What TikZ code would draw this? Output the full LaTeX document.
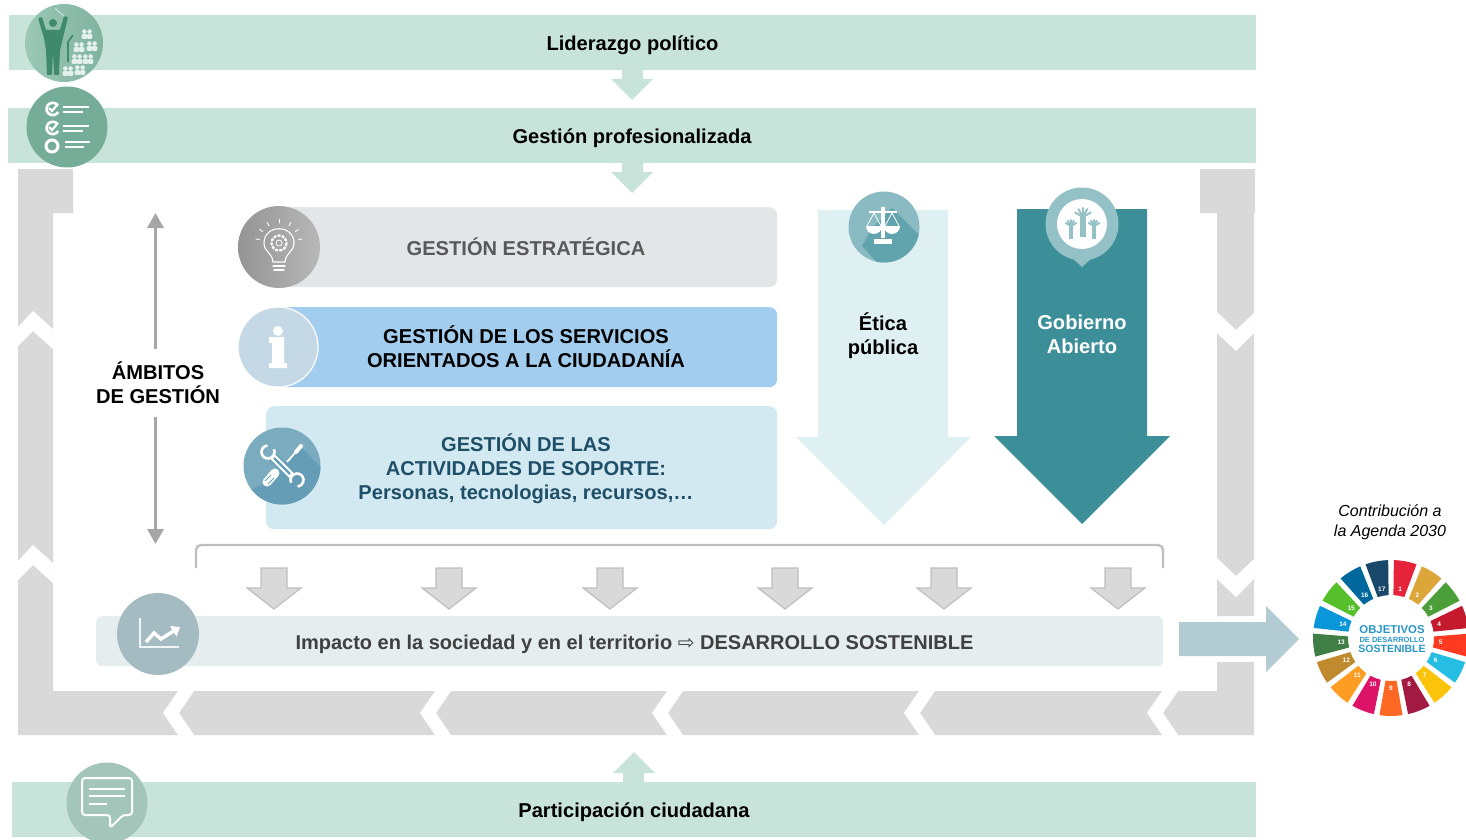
\documentclass[tikz,border=0pt]{standalone}
\usepackage{fontspec}
\setmainfont{Liberation Sans}
\newfontfamily\arrowfont{DejaVu Sans}
\usepackage{tikz}
\usetikzlibrary{arrows.meta}
\definecolor{bandgreen}{HTML}{C8E4DA}
\definecolor{framegrey}{HTML}{D9D9D9}
\definecolor{bluetext}{HTML}{1F4F66}
\definecolor{tealarrow}{HTML}{3C8E99}
\definecolor{ethicpale}{HTML}{DFF0F3}
\definecolor{boxgrey}{HTML}{E3E6E6}
\definecolor{boxblue}{HTML}{A3CDEE}
\definecolor{boxpale}{HTML}{D3E9F2}
\definecolor{boxice}{HTML}{E5EDEF}
\definecolor{arrowblue}{HTML}{B3CCD4}
\definecolor{sdgblue}{HTML}{2A96C8}
\definecolor{conda}{HTML}{9CC8B6}
\definecolor{condb}{HTML}{7FB3A0}
\definecolor{condark}{HTML}{3F8A6C}
\definecolor{checkg}{HTML}{76AD99}
\definecolor{infog}{HTML}{C5D8E6}
\definecolor{toolg}{HTML}{7AABBF}
\definecolor{toold}{HTML}{669DB6}
\definecolor{chartg}{HTML}{A5BBC2}
\definecolor{scaleg}{HTML}{8ABBC2}
\definecolor{scaled}{HTML}{62A4AE}
\definecolor{hands}{HTML}{93C1C6}
\definecolor{chatg}{HTML}{A4C6BA}

\begin{document}
\begin{tikzpicture}[x=1pt, y=-1pt,
		band/.style = {fill=bandgreen, inner sep=0pt, minimum height=55pt, text height=16pt, text depth=0pt, font=\fontsize{20.1}{24}\selectfont\bfseries},
		area/.style = {rounded corners=8pt, inner sep=0pt},
		disc/.style = {circle, inner sep=0pt},
		txt/.style = {align=center, inner sep=0pt, font=\fontsize{20.1}{24}\selectfont\bfseries},
		glyph/.style = {draw=white, line width=1.1pt, line cap=round},
		smallarr/.style = {fill=framegrey, draw=black!25, line width=1.2pt},
		person/.pic = {\foreach \d in {-2.6,2.6} {\fill (\d,-3.5) circle (2.3); \fill[rounded corners=1.2pt] (\d-2.8,4) -- (\d-2.8,-1) -- (\d+2.8,-1) -- (\d+2.8,4) -- cycle;}},
		hand/.pic = {\fill (-3.5,0) rectangle (3.5,22); \foreach \a in {-150,-120,-90,-62,-30} {\draw[line width=2pt, line cap=round] (0,0) -- ++(\a:10);}}]
		\useasboundingbox (0,0) rectangle (1466,840);
		\node[band, minimum width=1247pt] (lider) at (632.5,42.5) {Liderazgo político};
		\node[band, minimum width=1248pt] (gestion) at (632,135.5) {Gestión profesionalizada};
		\node[band, minimum width=1244pt] (particip) at (634,809.5) {Participación ciudadana};
		\fill[bandgreen] (622,70) -- (643,70) -- (643,79) -- (653,79) -- (632,100) -- (611,79) -- (622,79) -- cycle;
		\fill[bandgreen] (622,163) -- (643,163) -- (643,172) -- (653,172) -- (632,193) -- (611,172) -- (622,172) -- cycle;
		\fill[bandgreen] (623,782) -- (644,782) -- (644,773) -- (655,773) -- (634,752) -- (613,773) -- (623,773) -- cycle;

		\fill[framegrey] (18,169) -- (73,169) -- (73,213) -- (53,213) -- (53,691) -- (1217,691) -- (1217,662) -- (1254,662) -- (1254,735) -- (18,735) -- cycle;
		\fill[framegrey] (1200,169) -- (1255,169) -- (1255,213) -- (1254,213) -- (1254,616) -- (1217,616) -- (1217,213) -- (1200,213) -- cycle;
		\foreach \x in {163,420,652,904,1147} {
			\fill[white] (\x+15,691) -- (\x,713) -- (\x+15,735) -- (\x+31,735) -- (\x+16,713) -- (\x+31,691) -- cycle;
		}
		\foreach \y in {311,545} {
			\fill[white] (18,\y+16) -- (33,\y) -- (53,\y+18) -- (53,\y+38) -- (33,\y+20) -- (18,\y+35) -- cycle;
		}
		\foreach \y in {312,558} {
			\fill[white] (1217,\y) -- (1236,\y+18) -- (1254,\y+1) -- (1254,\y+21) -- (1236,\y+39) -- (1217,\y+21) -- cycle;
		}

		\node[area, fill=boxgrey, minimum width=498pt, minimum height=80pt, anchor=north west] (estrategica) at (279,207) {};
		\node[area, fill=boxblue, minimum width=499pt, minimum height=80pt, anchor=north west] (servicios) at (278,307) {};
		\node[area, fill=boxpale, minimum width=511pt, minimum height=123pt, anchor=north west] (soporte) at (266,406) {};
		\node[txt, text=black!65] (esttext) at (526,247) {GESTIÓN ESTRATÉGICA};
		\node[txt] (servtext) at (526,347) {GESTIÓN DE LOS SERVICIOS\\ORIENTADOS A LA CIUDADANÍA};
		\node[txt, text=bluetext] (soptext) at (526,469) {GESTIÓN DE LAS\\ACTIVIDADES DE SOPORTE:\\Personas, tecnologias, recursos,…};
		\node[area, fill=boxice, rounded corners=5pt, minimum width=1067pt, minimum height=50pt, anchor=north west] (impacto) at (96,616) {};
		\node[txt, text=black!75, font=\fontsize{20}{24}\selectfont\bfseries] (imptext) at (634.5,644) {Impacto en la sociedad y en el territorio {\arrowfont\fontsize{20}{24}\selectfont\mdseries ⇨} DESARROLLO SOSTENIBLE};

		\fill[ethicpale] (818,210) -- (948,210) -- (948,437) -- (971,437) -- (884,525) -- (796,437) -- (818,437) -- cycle;
		\fill[tealarrow] (1017,209) -- (1147,209) -- (1147,436) -- (1170,436) -- (1082,524) -- (994,436) -- (1017,436) -- cycle;
		\node[txt] (etica) at (883,336) {Ética\\pública};
		\node[txt, text=white] (gobierno) at (1082,334) {Gobierno\\Abierto};

		\node[txt, outer sep=13pt] (ambitos) at (158,383) {ÁMBITOS\\DE GESTIÓN};
		\coordinate (ambtop) at (155.5,213);
		\coordinate (ambbot) at (155.5,544);
		\draw[-{Triangle[length=15pt,width=16pt]}, line width=3pt, black!35] (ambitos.north -| ambtop) -- (ambtop);
		\draw[-{Triangle[length=15pt,width=16pt]}, line width=3pt, black!35] (ambitos.south -| ambbot) -- (ambbot);

		\draw[line width=2.4pt, black!25, rounded corners=5pt] (196,568) -- (196,545) -- (1163,545) -- (1163,568);
		\foreach \x in {274,449,610,785,944,1118} {
			\draw[smallarr] (\x-13,568) -- (\x+13,568) -- (\x+13,588) -- (\x+27,588) -- (\x,609) -- (\x-27,588) -- (\x-13,588) -- cycle;
		}

		\fill[arrowblue] (1179,622) -- (1266,622) -- (1266,606) -- (1299,639) -- (1266,672) -- (1266,656) -- (1179,656) -- cycle;

		\node[align=center, inner sep=0pt, font=\fontsize{16}{20}\selectfont\itshape] (agenda) at (1390,522) {Contribución a\\la Agenda 2030};
		\begin{scope}[shift={(1391,638)}, x=1pt, y=1pt]
			\foreach \c [count=\i] in {E5243B,DDA63A,4C9F38,C5192D,FF3A21,26BDE2,FCC30B,A21942,FD6925,DD1367,FD9D24,BF8B2E,3F7E44,0A97D9,56C02B,00689D,19486A} {
				\definecolor{sdg}{HTML}{\c}
				\pgfmathsetmacro{\ang}{90-(\i-1)*360/17}
				\fill[sdg] (\ang-2.1:78) arc[start angle=\ang-2.1, end angle=\ang-19.1, radius=78] -- (\ang-18:43) arc[start angle=\ang-18, end angle=\ang-3.2, radius=43] -- cycle;
				\node[text=white, inner sep=0pt, font=\fontsize{6.5}{7}\selectfont\bfseries] (sdg\i) at (\ang-10.6:50) {\i};
			}
		\end{scope}
		\node[align=center, inner sep=0pt, text=sdgblue, font=\bfseries] (ods) at (1392,639) {\fontsize{11.4}{10}\selectfont OBJETIVOS\\[-2.5pt]\fontsize{7.5}{8}\selectfont DE DESARROLLO\\[-2pt]\fontsize{10.5}{10}\selectfont SOSTENIBLE};

		\node[disc, minimum size=78pt, left color=conda, right color=condb] (iclider) at (64,43) {};
		\draw[white!70!conda, line width=.6pt] (55,8) -- (66,18);
		\fill[condark, rounded corners=1pt] (38,18) -- (42,17) -- (46,30) -- (60,30) -- (64,16) -- (68,17) -- (63,38) -- (60,50) -- (59,75) -- (54,75) -- (53,52) -- (52,75) -- (47,75) -- (46,50) -- (44,38) -- cycle;
		\fill[condark] (53,23) circle (4);
		\draw[condark, line width=1.6pt] (68,62) -- (68,42) -- (73,35);
		\foreach \p/\q in {87/35,79/48,92/47,77/60,88/60,68/72,80/71} {
			\pic[fill=white!72!conda] at (\p,\q) {person};
		}

		\node[disc, minimum size=81pt, fill=checkg] (icgestion) at (67,127) {};
		\foreach \y/\w/\z in {108/89/83,127/89/83} {
			\draw[white, line width=2.6pt] (57.5,\y-3) arc[start angle=-40, end angle=-330, radius=6.2];
			\draw[white, line width=2.2pt] (49,\y) -- (52,\y+3) -- (58,\y-4);
			\draw[white, line width=2.2pt] (63,\y-1) -- (\w,\y-1) (63,\y+4) -- (\z,\y+4);
		}
		\draw[white, line width=3pt] (52,146) circle (6);
		\draw[white, line width=2.2pt] (65,142) -- (90,142) (65,147) -- (84,147);

		\node[disc, minimum size=82pt, left color=black!42, right color=black!28] (icestrat) at (279,247) {};
		\draw[glyph] (273,262) .. controls (272,252) and (264,252) .. (264,243) .. controls (264,224) and (294,224) .. (294,243) .. controls (294,252) and (286,252) .. (285,262) -- cycle;
		\draw[glyph] (273,266) -- (285,266) (274,270) -- (284,270);
		\draw[glyph, dash pattern=on 3pt off 1.2pt, line cap=butt, line width=2.2pt] (279,243) circle (7.5);
		\draw[glyph, line width=.8pt] (279,243) circle (3);
		\foreach \a in {-170,-145,-120,-90,-60,-35,-10} {
			\draw[glyph, line width=.9pt] (279,243) ++(\a:20) -- ++(\a:3.5);
		}

		\node[disc, minimum size=80pt, fill=infog, draw=white, line width=1.2pt] (icserv) at (278,347) {};
		\fill[white] (278,331) circle (5);
		\fill[white] (269,337) -- (284,337) -- (284,363) -- (287,363) -- (287,368) -- (269,368) -- (269,363) -- (272,363) -- (272,343) -- (269,343) -- cycle;

		\node[disc, minimum size=77pt, fill=toolg] (icsoporte) at (282,466) {};
		\begin{scope}
			\clip (282,466) circle (38.5);
			\fill[toold] (300,446) -- (330,476) -- (282,520) -- (250,490) -- (268,482) -- cycle;
		\end{scope}
		\draw[white, line width=9pt, line cap=round] (267,482) -- (275,473);
		\draw[toold, line width=1pt] (265,481) -- (271,475) (268,484) -- (274,478);
		\draw[white, line width=1.8pt] (287,462) -- (295,453);
		\draw[white, line width=4pt, line cap=round] (296,452) -- (301,446);
		\draw[toold, line width=9pt] (272,456) -- (292,476);
		\draw[white, line width=6.5pt] (272,456) -- (292,476);
		\draw[toold, line width=2.2pt] (274,458) -- (290,474);
		\begin{scope}[shift={(268,452)}, x=1pt, y=1pt]
			\draw[white, line width=2.6pt] (95:6.5) arc[start angle=95, end angle=385, radius=6.5];
		\end{scope}
		\begin{scope}[shift={(297,480)}, x=1pt, y=1pt]
			\draw[white, line width=2.6pt] (275:6.5) arc[start angle=275, end angle=565, radius=6.5];
		\end{scope}

		\node[disc, minimum size=82pt, fill=chartg] (icimpacto) at (158,634) {};
		\draw[white!85!chartg, line width=1.5pt] (140,618) -- (140,647) -- (179,647);
		\draw[-{Triangle[length=8pt,width=12pt]}, white, line width=3.5pt] (146,642) -- (154,633) -- (161,639) -- (180,627);

		\node[disc, minimum size=71pt, fill=scaleg] (icetica) at (884,227) {};
		\begin{scope}
			\clip (884,227) circle (35.5);
			\fill[scaled] (892,208) -- (930,246) -- (895,282) -- (862,246) -- (872,228) -- cycle;
		\end{scope}
		\fill[white] (881,207) rectangle (885,238);
		\fill[white] (874,239) rectangle (892,244);
		\draw[white, line width=1.6pt] (869,212) -- (897,212);
		\draw[white, line width=.8pt] (874,213) -- (867,226) (874,213) -- (881,226) (892,213) -- (885,226) (892,213) -- (899,226);
		\fill[white] (866,226) arc[start angle=180, end angle=0, radius=8] -- cycle;
		\fill[white] (884,226) arc[start angle=180, end angle=0, radius=8] -- cycle;

		\fill[hands] (1082,267) -- (1071,257) -- (1093,257) -- cycle;
		\node[disc, minimum size=73pt, fill=hands] (icgobierno) at (1082,224) {};
		\node[disc, minimum size=50pt, fill=white] (ichands) at (1082,224) {};
		\pic[color=hands, fill=hands, scale=.9] at (1083,217) {hand};
		\pic[color=hands, fill=hands, scale=.6] at (1071,226) {hand};
		\pic[color=hands, fill=hands, scale=.6] at (1094,226) {hand};

		\node[disc, minimum size=81pt, fill=chatg] (icparticip) at (107,803) {};
		\draw[white, line width=2pt, line join=round, rounded corners=3pt] (82,778) -- (132,778) -- (132,815) -- (123,815) -- (110,828) -- (110,815) -- (82,815) -- cycle;
		\draw[white, line width=2pt] (89,789) -- (125,789) (89,796) -- (125,796) (89,804) -- (107,804);
	\end{tikzpicture}
\end{document}
